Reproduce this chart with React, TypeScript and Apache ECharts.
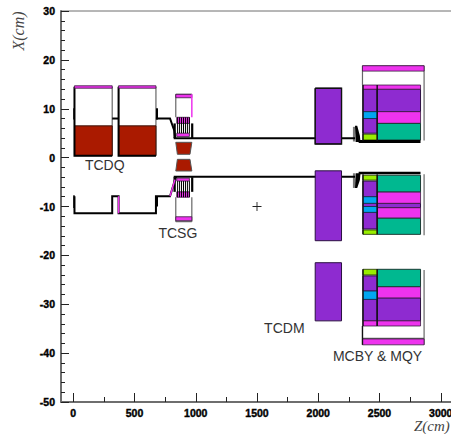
import React, { useEffect, useRef } from "react";
import * as echarts from "echarts";

// Axis values
const zMajorTicks = [0, 500, 1000, 1500, 2000, 2500, 3000];
const zMinorTicks = [250, 750, 1250, 1750, 2250, 2750];

// Rectangles: [z0, z1, x0, x1]
const brickRects = [
  [10, 318, 0.4, 6.5],
  [370, 675, 0.4, 6.5],
];
const purpleRects = [
  [1975, 2190, 2.8, 14.2],
  [1975, 2190, -17, -2.7],
  [1975, 2190, -33.4, -21.5],
  [2365, 2481, 9.4, 14.0],
  [2365, 2481, 5.0, 8.0],
  [2481, 2835, 9.4, 14.0],
  [2365, 2481, -8.0, -4.8],
  [2365, 2481, -10.0, -9.35],
  [2365, 2481, -14.6, -11.2],
  [2481, 2835, -10.25, -9.35],
  [2365, 2481, -27.3, -24.2],
  [2365, 2481, -33.4, -29.0],
  [2481, 2835, -33.4, -28.7],
];
const magentaRects = [
  [10, 318, 14.2, 14.7],
  [370, 675, 14.2, 14.7],
  [837, 968, 12.25, 12.95],
  [837, 968, -12.9, -12.1],
  [845, 948, 7.0, 8.25],
  [845, 948, 4.3, 5.0],
  [845, 948, -4.8, -4.2],
  [845, 948, -8.1, -7.0],
  [2361, 2864, 17.7, 18.8],
  [2365, 2835, 14.0, 14.85],
  [2481, 2835, 7.0, 9.4],
  [2481, 2835, -9.35, -7.0],
  [2481, 2835, -12.4, -10.25],
  [2481, 2835, -28.7, -26.4],
  [2365, 2481, -34.45, -33.4],
  [2481, 2835, -34.45, -33.4],
  [2361, 2864, -38.3, -37.1],
];
const tealRects = [
  [2481, 2835, 3.6, 7.0],
  [2481, 2835, -7.0, -3.6],
  [2481, 2835, -15.7, -12.4],
  [2481, 2835, -26.4, -22.85],
];
const blueRects = [
  [2365, 2481, 8.0, 9.4],
  [2365, 2481, -9.35, -8.0],
  [2365, 2481, -11.2, -10.0],
  [2365, 2481, -29.0, -27.3],
];
const limeRects = [
  [2365, 2481, 3.6, 4.8],
  [2365, 2481, -4.6, -3.6],
  [2365, 2481, -15.7, -14.8],
  [2365, 2481, -24.0, -22.85],
];
const blackRects = [
  [2330, 2835, 3.0, 3.6],
  [2330, 2835, -3.4, -2.9],
  [0, 12, 7.8, 10.1],
  [675, 692, 7.8, 10.1],
  [0, 12, -10.3, -7.7],
  [675, 692, -10.0, -7.9],
  [818, 837, 4.0, 7.0],
  [962, 980, 4.0, 7.0],
  [818, 837, -7.0, -4.0],
  [962, 980, -7.0, -4.0],
];
const greyRects = [
  [2283, 2300, 3.3, 6.3],
  [2283, 2300, -6.2, -3.2],
];

// Polygons: flat lists z, x, z, x, ...
const brickPolys = [
  [837, 3.13, 968, 3.13, 953, 0.68, 850, 0.68],
  [850, -0.35, 953, -0.35, 968, -2.74, 837, -2.74],
];
const blackPolys = [
  [2300, 6.5, 2318, 6.5, 2340, 4.5, 2345, 3.2, 2305, 3.2],
  [2305, -3.2, 2345, -3.2, 2340, -4.6, 2318, -6.2, 2300, -6.2],
];

// Polylines: flat lists z, x, z, x, ...
const thinGreyLines = [
  [318, 14.5, 318, 0.4],
  [370, 14.5, 370, 0.4],
  [675, 14.5, 675, 0.4],
  [837, 12.95, 837, 8.25],
  [837, -8.1, 837, -13.1],
  [968, -8.1, 968, -13.1],
  [837, 12.95, 968, 12.95],
  [837, -13.1, 968, -13.1],
  [2864, 18.8, 2864, 3.5],
  [2864, -3.4, 2864, -15.9],
  [2864, -23, 2864, -38.3],
  [2361, 18.8, 2864, 18.8],
  [2361, 18.8, 2361, 14.85],
  [2361, -37, 2864, -37],
];
const magentaLines = [
  [968, 12.95, 968, 8.25],
  [370, -7.9, 370, -11.4],
  [790, -7.9, 830, -4.5],
];
const mainBlackLines = [
  [10, 14.5, 10, 0.4, 318, 0.4],
  [370, 14.5, 370, 0.4, 675, 0.4],
  [318, 8, 370, 8],
  [675, 8, 790, 8, 825, 5.5, 832, 4],
  [820, 3.95, 2300, 3.95],
  [10, -7.9, 10, -11.4, 318, -11.4, 318, -7.9, 370, -7.9, 370, -11.4, 675, -11.4, 675, -7.9, 790, -7.9, 825, -5, 840, -3.9],
  [820, -3.9, 2300, -3.9],
];
const boxBlackLines = [
  [1975, 14.2, 2190, 14.2, 2190, 2.8, 1975, 2.8, 1975, 14.2],
  [2481, 14.85, 2481, 3.4],
  [2365, 14.85, 2365, 3.4],
  [2481, -3.4, 2481, -15.7],
  [2365, -3.4, 2365, -15.7],
  [2481, -22.85, 2481, -34.45],
  [2365, -22.85, 2365, -34.45],
  [2361, -34.45, 2361, -38.3],
];
const hatchZ = [852, 868, 884, 900, 916, 932, 948];
const hatchUpperTop = 8.25;
const hatchUpperBottom = 5.0;
const hatchLowerTop = -4.8;
const hatchLowerBottom = -8.1;

// Labels: [z, x, text]
const labelItems: [number, number, string][] = [
  [95, -1.5, "TCDQ"],
  [695, -15.5, "TCSG"],
  [1558, -34.9, "TCDM"],
  [2120, -40.6, "MCBY & MQY"],
];
const crossPoint = [[1500, -10]];

const MAGENTA = "#ee33ee";
const PURPLE = "#8e2bd0";
const TEAL = "#00b890";
const BLUE = "#00a6f0";
const LIME = "#99ee00";
const BRICK = "#aa1a00";
const AXIS = "#6e6e6e";
const DARK = "#222";

const rectSeries = (list: number[][], fill: string, stroke: string, lineWidth: number) => ({
  type: "custom",
  coordinateSystem: "cartesian2d",
  silent: true,
  data: list.map((r) => [r[0], r[2]]),
  encode: { x: 0, y: 1 },
  renderItem: (p: any, api: any) => {
    const r = list[p.dataIndex];
    const a = api.coord([r[0], r[3]]);
    const b = api.coord([r[1], r[2]]);
    return {
      type: "rect",
      shape: { x: a[0], y: a[1], width: b[0] - a[0], height: b[1] - a[1] },
      style: { fill, stroke, lineWidth },
    };
  },
});

const pointsOf = (flat: number[], api: any) => {
  const pts: number[][] = [];
  for (let i = 0; i < flat.length; i += 2) pts.push(api.coord([flat[i], flat[i + 1]]));
  return pts;
};

const polySeries = (list: number[][], fill: string, stroke: string, lineWidth: number) => ({
  type: "custom",
  coordinateSystem: "cartesian2d",
  silent: true,
  data: list.map((r) => [r[0], r[1]]),
  encode: { x: 0, y: 1 },
  renderItem: (p: any, api: any) => ({
    type: "polygon",
    shape: { points: pointsOf(list[p.dataIndex], api) },
    style: { fill, stroke, lineWidth },
  }),
});

const lineSeries = (list: number[][], stroke: string, lineWidth: number) => ({
  type: "custom",
  coordinateSystem: "cartesian2d",
  silent: true,
  data: list.map((r) => [r[0], r[1]]),
  encode: { x: 0, y: 1 },
  renderItem: (p: any, api: any) => ({
    type: "polyline",
    shape: { points: pointsOf(list[p.dataIndex], api) },
    style: { fill: "none", stroke, lineWidth },
  }),
});

const hatchLines = hatchZ.flatMap((z) => [
  [z, hatchUpperTop, z, hatchUpperBottom],
  [z, hatchLowerTop, z, hatchLowerBottom],
]);

export default function App() {
  const ref = useRef<HTMLDivElement>(null);
  useEffect(() => {
    document.body.style.margin = "0";
    document.body.style.overflow = "hidden";
    const chart = echarts.init(ref.current!, undefined, { renderer: "svg" });
    const tickLabel = {
      fontFamily: "Liberation Sans",
      fontWeight: "bold" as const,
      fontSize: 10.5,
      color: "#000",
      textBorderColor: "#000",
      textBorderWidth: 0.4,
      formatter: (v: number) => String(v),
    };
    chart.setOption({
      animation: false,
      backgroundColor: "#fff",
      grid: {
        left: 61,
        top: 11,
        width: 392,
        height: 391,
        show: true,
        borderColor: AXIS,
        borderWidth: 1,
        backgroundColor: "transparent",
        containLabel: false,
        outerBoundsMode: "none",
      },
      xAxis: [
        {
          type: "value",
          min: -100,
          max: 3100,
          position: "bottom",
          splitLine: { show: false },
          axisLine: { show: true, onZero: false, lineStyle: { color: AXIS, width: 2 } },
          axisTick: {
            show: true,
            inside: true,
            length: 9,
            customValues: zMajorTicks,
            lineStyle: { color: DARK, width: 1 },
          },
          axisLabel: { ...tickLabel, margin: 5, customValues: zMajorTicks, hideOverlap: false },
        },
        {
          type: "value",
          min: -100,
          max: 3100,
          position: "bottom",
          splitLine: { show: false },
          axisLine: { show: false, onZero: false },
          axisTick: {
            show: true,
            inside: true,
            length: 5,
            customValues: zMinorTicks,
            lineStyle: { color: DARK, width: 1 },
          },
          axisLabel: { show: false },
        },
      ],
      yAxis: {
        type: "value",
        min: -50,
        max: 30,
        interval: 10,
        position: "left",
        splitLine: { show: false },
        axisLine: { show: true, onZero: false, lineStyle: { color: AXIS, width: 2 } },
        axisTick: { show: true, inside: true, length: 8, lineStyle: { color: DARK, width: 1 } },
        minorTick: { show: true, splitNumber: 5, length: 4, lineStyle: { color: DARK, width: 1 } },
        axisLabel: { ...tickLabel, margin: 6 },
      },
      series: [
        lineSeries(thinGreyLines, "#666", 1.2),
        rectSeries(brickRects, BRICK, "#3a1208", 1),
        polySeries(brickPolys, BRICK, "#555", 1),
        rectSeries(greyRects, "#777", "#777", 0),
        lineSeries(mainBlackLines, "#000", 2),
        rectSeries(purpleRects, PURPLE, "#2a1040", 1),
        rectSeries(magentaRects, MAGENTA, "#3a1a40", 0.8),
        rectSeries(tealRects, TEAL, "#1a3a34", 1),
        rectSeries(blueRects, BLUE, "#1a2a4a", 0.8),
        rectSeries(limeRects, LIME, "#1a2a00", 0.8),
        rectSeries(blackRects, "#000", "#000", 0),
        polySeries(blackPolys, "#000", "#000", 0),
        lineSeries(magentaLines, MAGENTA, 1.5),
        lineSeries(boxBlackLines, "#111", 1.4),
        lineSeries(hatchLines, "#000", 1),
        {
          type: "scatter",
          silent: true,
          data: crossPoint,
          symbol: "path://M4.5 0h1v4.5h4.5v1h-4.5v4.5h-1v-4.5h-4.5v-1h4.5z",
          symbolSize: 9,
          itemStyle: { color: "#222", opacity: 1 },
        },
        {
          type: "custom",
          coordinateSystem: "cartesian2d",
          silent: true,
          data: labelItems.map((d) => [d[0], d[1]]),
          encode: { x: 0, y: 1 },
          renderItem: (p: any, api: any) => {
            const d = labelItems[p.dataIndex];
            const c = api.coord([d[0], d[1]]);
            return {
              type: "text",
              x: c[0],
              y: c[1],
              style: {
                text: d[2],
                fontFamily: "Liberation Sans",
                fontSize: 14,
                fill: "#333",
                align: "left",
                verticalAlign: "middle",
              },
            };
          },
        },
      ],
      graphic: [
        {
          type: "text",
          x: 414,
          y: 426,
          style: {
            text: "Z(cm)",
            fontFamily: "Liberation Serif",
            fontStyle: "italic",
            fontSize: 15,
            fill: "#444",
            verticalAlign: "middle",
          },
        },
        {
          type: "text",
          x: 18,
          y: 31,
          rotation: Math.PI / 2,
          style: {
            text: "X(cm)",
            fontFamily: "Liberation Serif",
            fontStyle: "italic",
            fontSize: 16,
            fill: "#444",
            align: "center",
            verticalAlign: "middle",
          },
        },
      ],
    });
    return () => chart.dispose();
  }, []);
  return <div ref={ref} style={{ position: "absolute", left: 0, top: 0, width: 451, height: 434 }} />;
}
